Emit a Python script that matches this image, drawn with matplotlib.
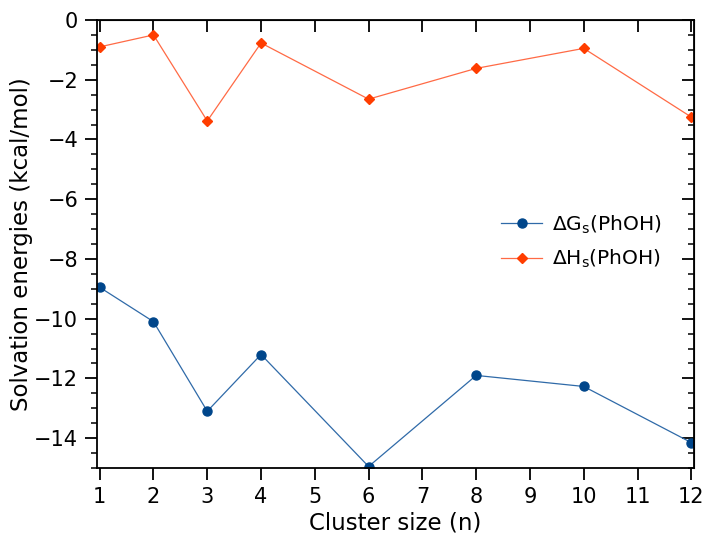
import matplotlib
matplotlib.use("Agg")
import matplotlib.pyplot as plt
from matplotlib.ticker import MultipleLocator

cluster_size = [1, 2, 3, 4, 6, 8, 10, 12]
dG = [-8.95, -10.1, -13.1, -11.2, -14.95, -11.9, -12.27, -14.15]
dH = [-0.9, -0.5, -3.38, -0.77, -2.65, -1.62, -0.95, -3.25]

fig = plt.figure(figsize=(7.04, 5.35), dpi=100)
ax = fig.add_axes([97/704, 1-468/535, (694-97)/704, (468-20)/535])

ax.plot(cluster_size, dG, color="#2f6aa8", lw=0.9, marker="o", ms=6.5,
        mfc="#00468b", mec="#00468b", label=r"$\Delta$G$_\mathregular{s}$(PhOH)")
ax.plot(cluster_size, dH, color="#ff6a45", lw=0.9, marker="D", ms=5.2,
        mfc="#ff3d00", mec="#ff3d00", label=r"$\Delta$H$_\mathregular{s}$(PhOH)")

ax.set_xlim(0.95, 12.05)
ax.set_ylim(-15, 0)
ax.set_xticks(range(1, 13))
ax.yaxis.set_major_locator(MultipleLocator(2))
ax.yaxis.set_minor_locator(MultipleLocator(0.5))
ax.tick_params(axis="both", which="major", direction="out", length=8.5, width=1.3,
               labelsize=15, pad=5)
ax.tick_params(axis="y", which="minor", direction="out", length=4.5, width=1.1)
for s in ax.spines.values():
    s.set_linewidth(1.3)

# inward ticks on top and right
axt = ax.secondary_xaxis("top")
axt.set_xticks(range(1, 13))
axt.tick_params(direction="in", length=8.5, width=1.3, labeltop=False)
axr = ax.secondary_yaxis("right")
axr.yaxis.set_major_locator(MultipleLocator(2))
axr.yaxis.set_minor_locator(MultipleLocator(0.5))
axr.tick_params(which="major", direction="in", length=8.5, width=1.3, labelright=False)
axr.tick_params(which="minor", direction="in", length=4.5, width=1.1)

ax.set_xlabel("Cluster size (n)", fontsize=16.5)
ax.set_ylabel("Solvation energies (kcal/mol)", fontsize=16.5)
ax.xaxis.set_label_coords(0.5, (468 - 512) / 448)
ax.yaxis.set_label_coords((33 - 97) / 597, 0.5)

ax.legend(loc="center right", bbox_to_anchor=(1.0, 0.505), frameon=False, fontsize=14.5,
          handlelength=2.05, handletextpad=0.5, labelspacing=0.6, borderaxespad=1.2)

fig.savefig("out.png", dpi=100)
